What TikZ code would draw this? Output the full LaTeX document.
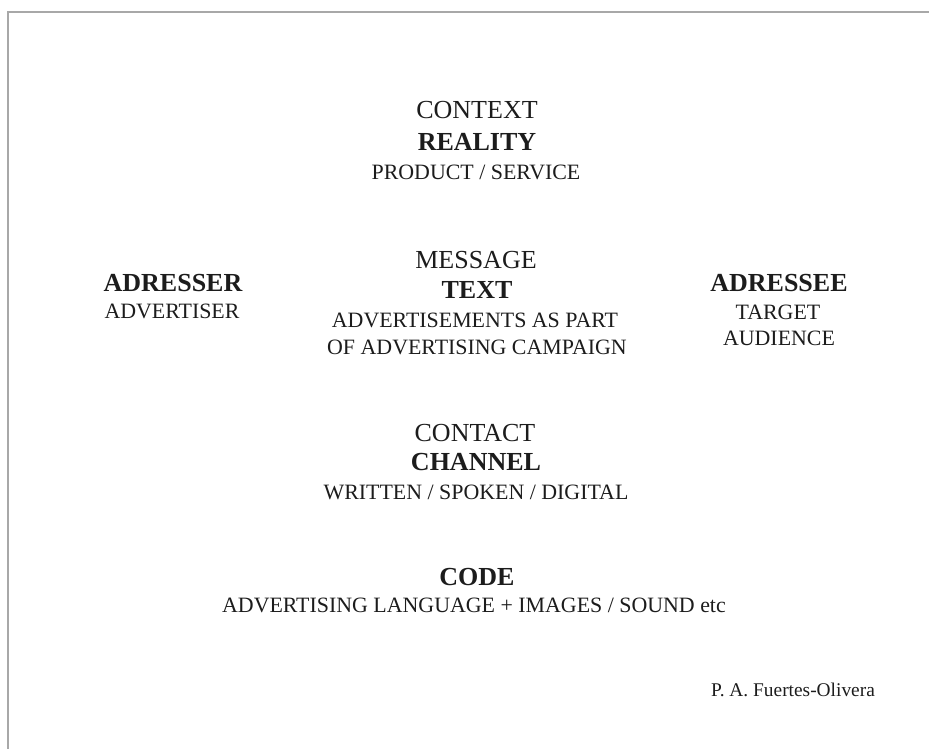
\documentclass[tikz,border=0pt]{standalone}
\usepackage{fontspec}
\setmainfont{Liberation Serif}
\definecolor{framegray}{HTML}{A8A8A8}
\definecolor{ink}{HTML}{1C1C1C}
\begin{document}
\begin{tikzpicture}[x=1pt,y=-1pt,
  every node/.style={inner sep=0pt, anchor=base, text=ink},
  headtxt/.style={font=\fontsize{26}{30}\selectfont},
  boldtxt/.style={font=\fontsize{26}{30}\selectfont\bfseries},
  smalltxt/.style={font=\fontsize{21.9}{25}\selectfont},
  signtxt/.style={font=\fontsize{19.4}{22}\selectfont},
  frameline/.style={draw=framegray, line width=2pt}]
\useasboundingbox (0,0) rectangle (929,749);
\coordinate (fb) at (8,749);
\coordinate (fc) at (8,12);
\coordinate (fr) at (929,12);
\draw[frameline] (fb) -- (fc) -- (fr);
% context block
\node[headtxt] (context) at (477,118.5) {CONTEXT};
\node[boldtxt] (reality) at (477,150.5) {REALITY};
\node[smalltxt] (product) at (476,179) {PRODUCT / SERVICE};
% message block
\node[headtxt] (message) at (476,268.5) {MESSAGE};
\node[boldtxt] (text) at (477,298.5) {TEXT};
\node[smalltxt] (adv1) at (475,327) {ADVERTISEMENTS AS PART};
\node[smalltxt] (adv2) at (477,354) {OF ADVERTISING CAMPAIGN};
% addresser
\node[boldtxt] (adresser) at (173,291.5) {ADRESSER};
\node[smalltxt] (advertiser) at (172,318) {ADVERTISER};
% addressee
\node[boldtxt] (adressee) at (779,291.5) {ADRESSEE};
\node[smalltxt] (target) at (778,319) {TARGET};
\node[smalltxt] (audience) at (779,345) {AUDIENCE};
% contact
\node[headtxt] (contact) at (475,441.5) {CONTACT};
\node[boldtxt] (channel) at (476,470.5) {CHANNEL};
\node[smalltxt] (written) at (476,499) {WRITTEN / SPOKEN / DIGITAL};
% code
\node[boldtxt] (code) at (477,585.5) {CODE};
\node[smalltxt] (codeline) at (474,612) {ADVERTISING LANGUAGE + IMAGES / SOUND etc};
% signature
\node[signtxt] (sign) at (793,696.5) {P. A. Fuertes-Olivera};
\end{tikzpicture}
\end{document}
